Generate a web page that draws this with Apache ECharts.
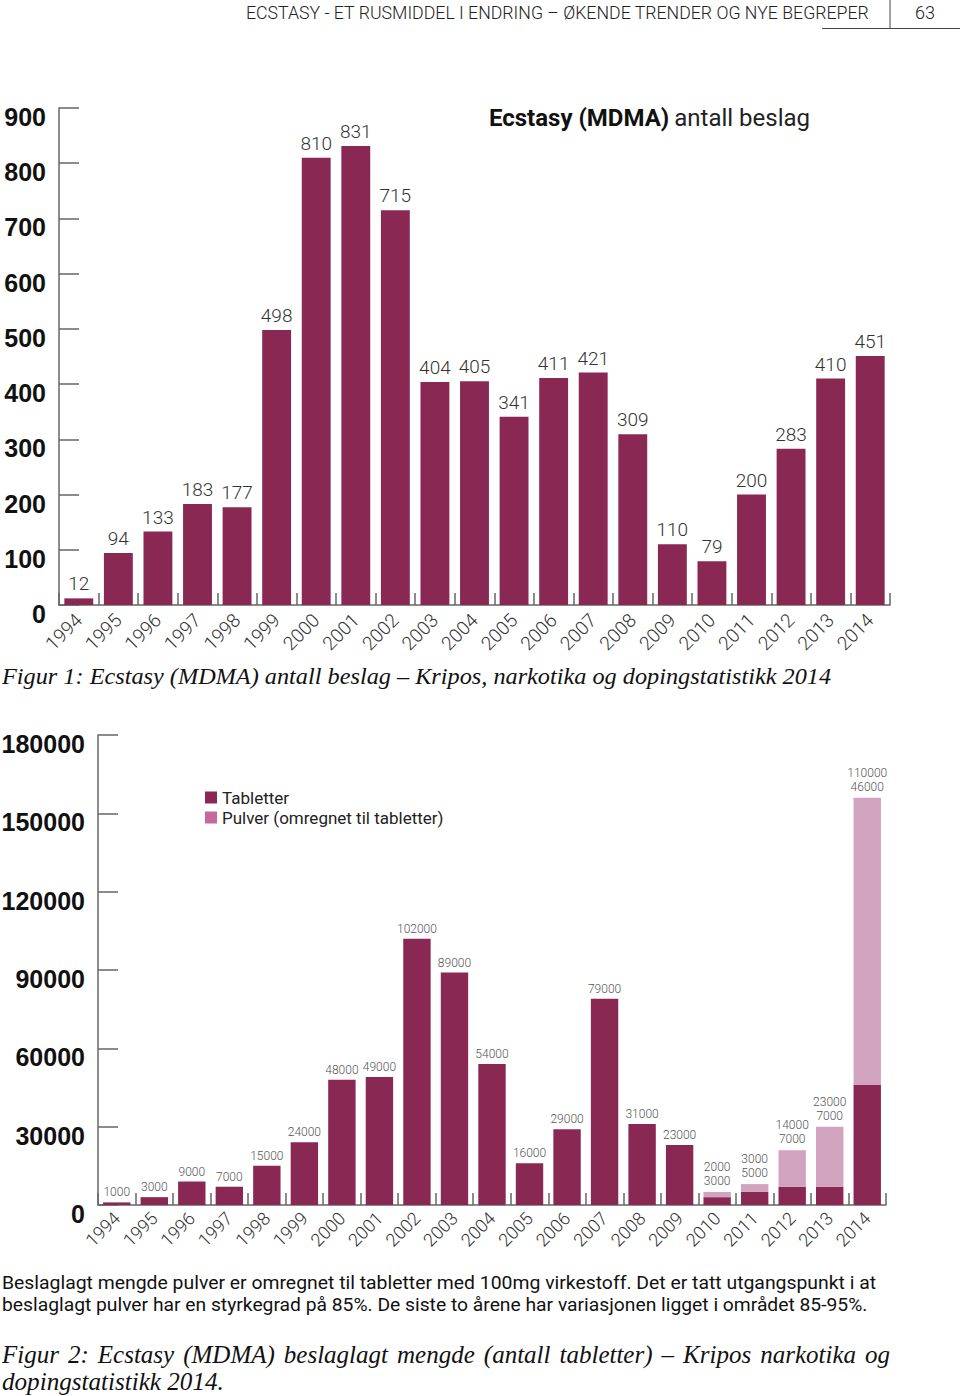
<!DOCTYPE html>
<html><head><meta charset="utf-8">
<script src="https://cdn.jsdelivr.net/npm/echarts@6/dist/echarts.min.js"></script>
<style>html,body{margin:0;padding:0;background:#fff}#c{width:960px;height:1396px}</style>
</head><body><div id="c"></div>
<script>
// ---------- data ----------
const years = ['1994','1995','1996','1997','1998','1999','2000','2001','2002','2003','2004','2005','2006','2007','2008','2009','2010','2011','2012','2013','2014'];
const beslag = [12,94,133,183,177,498,810,831,715,404,405,341,411,421,309,110,79,200,283,410,451];
const tabletter = [1000,3000,9000,7000,15000,24000,48000,49000,102000,89000,54000,16000,29000,79000,31000,23000,3000,5000,7000,7000,46000];
const pulver = [null,null,null,null,null,null,null,null,null,null,null,null,null,null,null,null,2000,3000,14000,23000,110000];
const seriesNames = ['Tabletter','Pulver (omregnet til tabletter)'];

const headerText = 'ECSTASY - ET RUSMIDDEL I ENDRING – ØKENDE TRENDER OG NYE BEGREPER';
const pageNo = '63';
const caption1 = 'Figur 1: Ecstasy (MDMA) antall beslag – Kripos, narkotika og dopingstatistikk 2014';
const note1 = 'Beslaglagt mengde pulver er omregnet til tabletter med 100mg virkestoff. Det er tatt utgangspunkt i at';
const note2 = 'beslaglagt pulver har en styrkegrad på 85%. De siste to årene har variasjonen ligget i området 85-95%.';
const cap2a = 'Figur 2: Ecstasy (MDMA) beslaglagt mengde (antall tabletter) – Kripos narkotika og';
const cap2b = 'dopingstatistikk 2014.';

// ---------- style ----------
const DARK = '#8A2854';
const LIGHT = '#D1A3BF';
const LEGEND_LIGHT = '#C66A9B';
const AXIS = '#666';

const mctx = document.createElement('canvas').getContext('2d');
function tw(text, font){ mctx.font = font; return mctx.measureText(text).width; }

function fitText(text, x, y, width, font, fill){
  const w = tw(text, font);
  return {type:'text', x:x, y:y, scaleX: width / w, style:{text:text, font:font, fill:fill, align:'left', verticalAlign:'middle'}};
}
function justify(text, x, y, width, font, fill){
  const words = text.split(' ');
  const ws = words.map(w => tw(w, font));
  const sum = ws.reduce((a,b)=>a+b,0);
  const gap = (width - sum) / (words.length - 1);
  const out = [];
  let cx = x;
  words.forEach((w,i)=>{
    out.push({type:'text', x:cx, y:y, style:{text:w, font:font, fill:fill, align:'left', verticalAlign:'middle'}});
    cx += ws[i] + gap;
  });
  return out;
}

const serifIt = 'italic 24px "Liberation Serif"';
const graphics = [
  fitText(headerText, 246, 12, 624, '300 19px Roboto', '#222'),
  {type:'text', x:925, y:12, style:{text:pageNo, font:'300 18px Roboto', fill:'#222', align:'center', verticalAlign:'middle'}},
  {type:'line', shape:{x1:890,y1:0,x2:890,y2:28}, style:{stroke:'#444', lineWidth:1}},
  {type:'line', shape:{x1:822,y1:28.5,x2:960,y2:28.5}, style:{stroke:'#444', lineWidth:1}},
  fitText(caption1, 2, 676, 830, serifIt, '#111'),
  fitText(note1, 2, 1283, 874, '19px Roboto', '#111'),
  fitText(note2, 2, 1305, 866, '19px Roboto', '#111'),
  ...justify(cap2a, 2, 1354, 888, 'italic 25px "Liberation Serif"', '#111'),
  fitText(cap2b, 2, 1382, 222, 'italic 25px "Liberation Serif"', '#111')
];

const xAxisBase = (grid, fs, margin) => ({
  type:'category', gridIndex:grid, data:years,
  axisLine:{lineStyle:{color:AXIS, width:1.5}},
  axisTick:{show:true, inside:true, length:12, lineStyle:{color:AXIS, width:1.5}},
  axisLabel:{rotate:45, margin:margin, fontSize:fs, color:'#333', fontFamily:'Roboto', fontWeight:300, interval:0}
});
const yAxisBase = (grid, max, interval, margin) => ({
  type:'value', gridIndex:grid, min:0, max:max, interval:interval,
  splitLine:{show:false},
  axisLine:{show:true, lineStyle:{color:AXIS, width:1.5}},
  axisTick:{show:true, inside:true, length:20, lineStyle:{color:AXIS, width:1.5}},
  axisLabel:{fontSize:25, fontWeight:'bold', color:'#111', fontFamily:'Liberation Sans', margin:margin,
    verticalAlign:'top', lineHeight:18, formatter: v => String(v)}
});

const option = {
  animation:false,
  backgroundColor:'#fff',
  title:[{
    text:'{b|Ecstasy (MDMA)} {r|antall beslag}',
    left:484, top:101,
    textStyle:{rich:{
      b:{fontFamily:'Roboto', fontWeight:'bold', fontSize:24, color:'#111'},
      r:{fontFamily:'Roboto', fontWeight:'normal', fontSize:24, color:'#222'}
    }}
  }],
  legend:{
    orient:'vertical', left:200, top:784, itemWidth:12, itemHeight:12, itemGap:3,
    textStyle:{fontSize:17, color:'#222', fontFamily:'Roboto'},
    data:[
      {name:seriesNames[0], icon:'rect', itemStyle:{color:DARK}},
      {name:seriesNames[1], icon:'rect', itemStyle:{color:LEGEND_LIGHT}}
    ]
  },
  grid:[
    {left:59, top:108, width:831, height:497, outerBoundsMode:'none'},
    {left:98, top:735, width:788, height:470, outerBoundsMode:'none'}
  ],
  xAxis:[xAxisBase(0, 19, 12), xAxisBase(1, 18, 10)],
  yAxis:[yAxisBase(0, 900, 100, 13), yAxisBase(1, 180000, 30000, 13)],
  series:[
    {type:'bar', xAxisIndex:0, yAxisIndex:0, data:beslag, barWidth:'73%',
     itemStyle:{color:DARK},
     label:{show:true, position:'top', distance:5, fontSize:19, color:'#333', fontFamily:'Roboto', fontWeight:300}},
    {type:'bar', name:seriesNames[0], xAxisIndex:1, yAxisIndex:1, stack:'s', data:tabletter, barWidth:'73%',
     itemStyle:{color:DARK},
     label:{show:true, position:'top', distance:4, fontSize:12, color:'#555', fontFamily:'Roboto', fontWeight:300,
       formatter: p => pulver[p.dataIndex] == null ? String(p.value) : ''}},
    {type:'bar', name:seriesNames[1], xAxisIndex:1, yAxisIndex:1, stack:'s', data:pulver, barWidth:'73%',
     itemStyle:{color:LIGHT},
     label:{show:true, position:'top', distance:4, fontSize:12, lineHeight:14, color:'#555', fontFamily:'Roboto', fontWeight:300,
       formatter: p => p.value + '\n' + tabletter[p.dataIndex]}}
  ],
  graphic: graphics
};

const chart = echarts.init(document.getElementById('c'), null, {renderer:'svg', width:960, height:1396});
chart.setOption(option);
</script>
</body></html>
